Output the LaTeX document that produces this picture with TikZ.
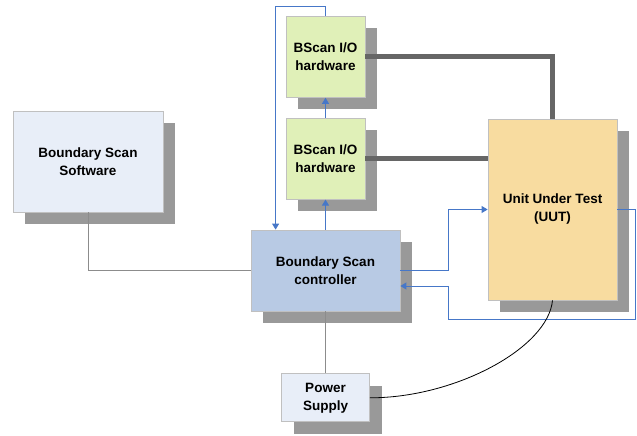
\documentclass[tikz,border=0pt]{standalone}
\usepackage{fontspec}
\setmainfont{Liberation Sans}
\usetikzlibrary{arrows.meta,positioning,shadows}
\definecolor{linkblue}{HTML}{4677C8}
\definecolor{boxedge}{HTML}{C0C0C0}
\definecolor{shadowgray}{HTML}{999999}
\definecolor{busgray}{HTML}{666666}
\definecolor{wiregray}{HTML}{8C8C8C}
\definecolor{paleblue}{HTML}{E8EEF8}
\definecolor{palegreen}{HTML}{E0F0B8}
\definecolor{paleorange}{HTML}{F8DCA0}
\definecolor{ctrlblue}{HTML}{B8CAE4}
\tikzset{
  block/.style={
    draw=boxedge,
    line width=0.8pt,
    fill=paleblue,
    align=center,
    inner sep=0pt,
    font=\fontsize{13.5}{18}\selectfont\bfseries,
    drop shadow={shadow xshift=12pt, shadow yshift=-12pt, fill=shadowgray, opacity=1}
  },
  iobox/.style={
    block,
    fill=palegreen,
    minimum width=79pt,
    minimum height=81pt
  },
  uutbox/.style={
    block,
    fill=paleorange,
    minimum width=129pt,
    minimum height=181pt
  },
  ctrlbox/.style={
    block,
    fill=ctrlblue,
    minimum width=149pt,
    minimum height=81pt
  },
  ctrlarrow/.style={
    -{Triangle[length=6pt,width=7pt]},
    line width=1pt,
    draw=linkblue
  },
  wire/.style={
    line width=0.9pt,
    draw=wiregray
  },
  busline/.style={
    line width=5pt,
    draw=busgray
  },
  supplyline/.style={
    line width=0.8pt,
    draw=black
  }
}

\begin{document}
\begin{tikzpicture}[x=1pt, y=-1pt]
    \useasboundingbox (0,0) rectangle (637,436);

    \node[block, minimum width=150pt, minimum height=101pt] (software) at (88,161.5) {
        Boundary Scan\\Software
    };
    \node[ctrlbox] (controller) at (325.5,270.5) {
        Boundary Scan\\controller
    };
    \node[iobox, above=30pt of controller] (lowerio) {
        BScan I/O\\hardware
    };
    \node[iobox, above=20pt of lowerio] (topio) {
        BScan I/O\\hardware
    };
    \node[uutbox] (uut) at (552.5,209.5) {
        Unit Under Test\\(UUT)
    };
    \node[block, minimum width=88pt, minimum height=48pt, below=62pt of controller] (power) {
        Power\\Supply
    };

    % scan chain
    \draw[ctrlarrow] (controller.north) -- (lowerio.south);
    \draw[ctrlarrow] (lowerio.north) -- (topio.south);
    \draw[ctrlarrow] (topio.north) -- ++(0,-9) -| ([xshift=25pt]controller.north west);
    \draw[ctrlarrow] (controller.east) -- ++(48,0) |- (uut.west);
    \draw[ctrlarrow] (uut.east) -- ++(18,0) |- (448,319) |- ([yshift=-15.5pt]controller.east);

    % I/O to the board
    \draw[busline] (topio.east) -| (uut.north);
    \draw[busline] (lowerio.east) -- (lowerio.east -| uut.west);

    \draw[wire] (software.south) |- (controller.west);
    \draw[wire] (controller.south) -- (power.north);
    \draw[supplyline] (power.east) .. controls (455,398) and (548,348) .. (uut.south);
\end{tikzpicture}
\end{document}
